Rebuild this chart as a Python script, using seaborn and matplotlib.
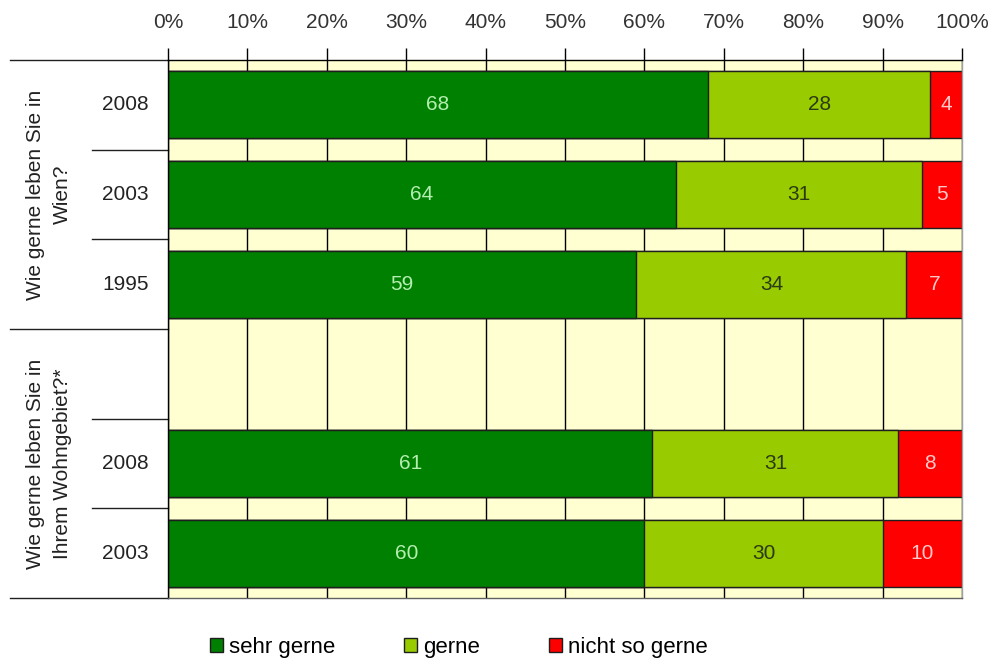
import matplotlib
matplotlib.use("Agg")
import matplotlib.pyplot as plt
import matplotlib.transforms as mtransforms
from matplotlib.patches import Patch
import seaborn as sns
import pandas as pd

# Survey answers in percent, one row per question/year, plus one empty spacer row
row_keys = ["wien_2008", "wien_2003", "wien_1995", "spacer", "gebiet_2008", "gebiet_2003"]
year_labels = ["2008", "2003", "1995", "", "2008", "2003"]
sehr_gerne = [68, 64, 59, None, 61, 60]
gerne = [28, 31, 34, None, 31, 30]
nicht_so_gerne = [4, 5, 7, None, 8, 10]

questions = ["Wie gerne leben Sie in\nWien?", "Wie gerne leben Sie in\nIhrem Wohngebiet?*"]
question_rows = [(0, 2), (3, 5)]

series_names = ["sehr gerne", "gerne", "nicht so gerne"]
series_colors = ["#008000", "#99CC00", "#FF0000"]
label_colors = ["#B4EEB0", "#2B3A12", "#FFC8C8"]

ticks = list(range(0, 101, 10))

font = ["Liberation Sans", "DejaVu Sans"]

records = []
for key, a, b, c in zip(row_keys, sehr_gerne, gerne, nicht_so_gerne):
    if a is None:
        continue
    records.append({"row": key, "s1": a, "s2": b, "s3": c})
df = pd.DataFrame(records)
df["cum1"] = df["s1"]
df["cum2"] = df["s1"] + df["s2"]
df["cum3"] = df["s1"] + df["s2"] + df["s3"]

fig = plt.figure(figsize=(9.93, 6.65), dpi=100)
ax = fig.add_axes([0.1692, 0.1008, 0.7996, 0.809])
ax.set_facecolor("#FFFFD2")

edge = "#1E1E1E"
# Stacked bars: draw cumulative totals from the back to the front
for col, color in zip(["cum3", "cum2", "cum1"], series_colors[::-1]):
    sns.barplot(data=df, x=col, y="row", order=row_keys, orient="h",
                color=color, saturation=1, width=0.75, errorbar=None,
                edgecolor=edge, linewidth=1.0, ax=ax)

ax.set_xlim(0, 100)
ax.set_ylim(5.5, -0.5)

# Value labels centred in each segment
for _, r in df.iterrows():
    i = row_keys.index(r["row"])
    vals = [r["s1"], r["s2"], r["s3"]]
    start = 0
    for v, tc in zip(vals, label_colors):
        ax.text(start + v / 2, i, f"{int(v)}", ha="center", va="center",
                color=tc, fontsize=15, family=font)
        start += v

# Axis styling: ticks on top, black vertical grid lines
ax.xaxis.tick_top()
ax.set_xticks(ticks)
ax.set_xticklabels([f"{t}%" for t in ticks], family=font, fontsize=15, color="#333333")
ax.tick_params(axis="x", direction="out", length=9, width=1, color="black", pad=11)
ax.set_yticks([])
ax.set_xlabel("")
ax.set_ylabel("")
ax.set_axisbelow(True)
ax.xaxis.grid(True, color="black", linewidth=1)
ax.yaxis.grid(False)
for side, c in [("left", "black"), ("top", "black"), ("right", "#A0A0A0"), ("bottom", "#606060")]:
    ax.spines[side].set_color(c)
    ax.spines[side].set_linewidth(1)

# Left-hand label column
trans = mtransforms.blended_transform_factory(ax.transAxes, ax.transData)
for i, yl in enumerate(year_labels):
    if yl:
        ax.text(-0.054, i, yl, transform=trans, ha="center", va="center",
                fontsize=15, family=font, color="#222222")
for q, (r0, r1) in zip(questions, question_rows):
    ax.text(-0.150, (r0 + r1) / 2, q, transform=trans, ha="center", va="center",
            rotation=90, fontsize=15, family=font, color="#222222",
            multialignment="center", linespacing=1.55)

for y in [-0.5, 2.5, 5.5]:
    ax.plot([-0.199, 0], [y, y], transform=trans, color="#202020", lw=1, clip_on=False)
for y in [0.5, 1.5, 3.5, 4.5]:
    ax.plot([-0.0957, 0], [y, y], transform=trans, color="#202020", lw=1, clip_on=False)

# Legend
handles = [Patch(facecolor=c, edgecolor=edge, linewidth=1) for c in series_colors]
fig.legend(handles, series_names, loc="center", bbox_to_anchor=(0.462, 0.026),
           ncol=3, frameon=False, handlelength=0.6, handleheight=0.6,
           handletextpad=0.25, columnspacing=3.1,
           prop={"family": font, "size": 16})

fig.savefig("out.png", dpi=100)
